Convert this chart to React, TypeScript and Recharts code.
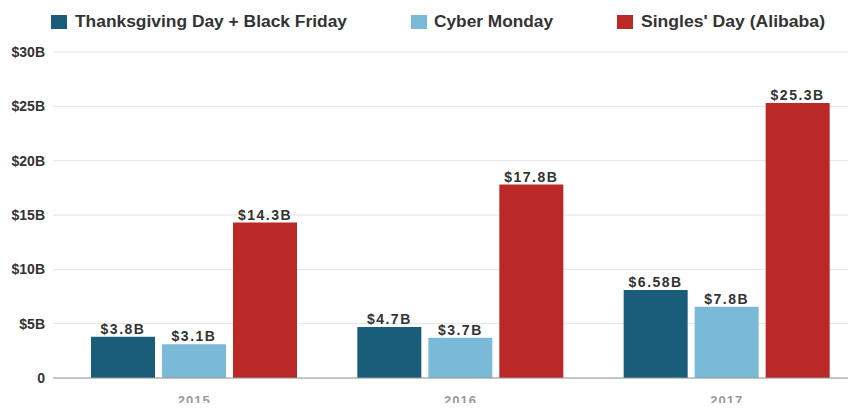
import React from 'react';
import { BarChart, Bar, XAxis, YAxis, CartesianGrid, LabelList } from 'recharts';

const years = ['2015', '2016', '2017'];
const thanksgiving = [3.8, 4.7, 8.1];
const cyberMonday = [3.1, 3.7, 6.55];
const singlesDay = [14.3, 17.8, 25.3];
const thanksgivingLabels = ['$3.8B', '$4.7B', '$6.58B'];
const cyberMondayLabels = ['$3.1B', '$3.7B', '$7.8B'];
const singlesDayLabels = ['$14.3B', '$17.8B', '$25.3B'];
const yTicks = [0, 5, 10, 15, 20, 25, 30];

const seriesNames = ['Thanksgiving Day + Black Friday', 'Cyber Monday', "Singles' Day (Alibaba)"];
const colors = ['#1a5d7a', '#7ab9d7', '#ba2828'];

const data = years.map((y, i) => ({
  year: y,
  tg: thanksgiving[i],
  cm: cyberMonday[i],
  sd: singlesDay[i],
  tgLabel: thanksgivingLabels[i],
  cmLabel: cyberMondayLabels[i],
  sdLabel: singlesDayLabels[i],
}));

const FONT = '"Liberation Sans", Arial, sans-serif';
const labelStyle = { fill: '#333', fontSize: 14, fontWeight: 700, fontFamily: FONT, letterSpacing: 1.5 };

// legend layout (square x, text x, text width)
const legendLayout = [
  { sx: 51, tx: 75, w: 272 },
  { sx: 411, tx: 434, w: 119 },
  { sx: 617, tx: 641, w: 184 },
];

export default function App() {
  return (
    <div style={{ position: 'relative', margin: -8, width: 856, height: 411, overflow: 'hidden', background: '#fff' }}>
      <svg width={856} height={40} style={{ position: 'absolute', top: 0, left: 0, zIndex: 2 }}>
        {seriesNames.map((n, i) => (
          <g key={n}>
            <rect x={legendLayout[i].sx} y={15} width={16} height={14} fill={colors[i]} />
            <text
              x={legendLayout[i].tx}
              y={27}
              fontFamily={FONT}
              fontWeight={700}
              fontSize={16}
              fill="#333"
              textLength={legendLayout[i].w}
              lengthAdjust="spacingAndGlyphs"
            >
              {n}
            </text>
          </g>
        ))}
      </svg>
      <BarChart
        width={860}
        height={411}
        data={data}
        margin={{ top: 52, right: 0, bottom: 3, left: 0 }}
        barSize={64}
        barGap={7}
      >
        <CartesianGrid vertical={false} stroke="#e4e4e4" />
        <XAxis
          dataKey="year"
          axisLine={{ stroke: '#999' }}
          tickLine={false}
          height={30}
          padding={{ left: 8, right: 0 }}
          tickMargin={12}
          tick={{ fill: '#9a9a9a', fontSize: 13, fontWeight: 700, fontFamily: FONT, letterSpacing: 1 }}
        />
        <YAxis
          width={53}
          domain={[0, 30]}
          ticks={yTicks}
          axisLine={false}
          tickLine={false}
          tickFormatter={(v: number) => (v === 0 ? '0' : `$${v}B`)}
          tick={{ fill: '#333', fontSize: 14, fontWeight: 700, fontFamily: FONT }}
        />
        <Bar dataKey="tg" fill={colors[0]} isAnimationActive={false}>
          <LabelList dataKey="tgLabel" position="top" offset={3} style={labelStyle} />
        </Bar>
        <Bar dataKey="cm" fill={colors[1]} isAnimationActive={false}>
          <LabelList dataKey="cmLabel" position="top" offset={3} style={labelStyle} />
        </Bar>
        <Bar dataKey="sd" fill={colors[2]} isAnimationActive={false}>
          <LabelList dataKey="sdLabel" position="top" offset={3} style={labelStyle} />
        </Bar>
      </BarChart>
    </div>
  );
}
